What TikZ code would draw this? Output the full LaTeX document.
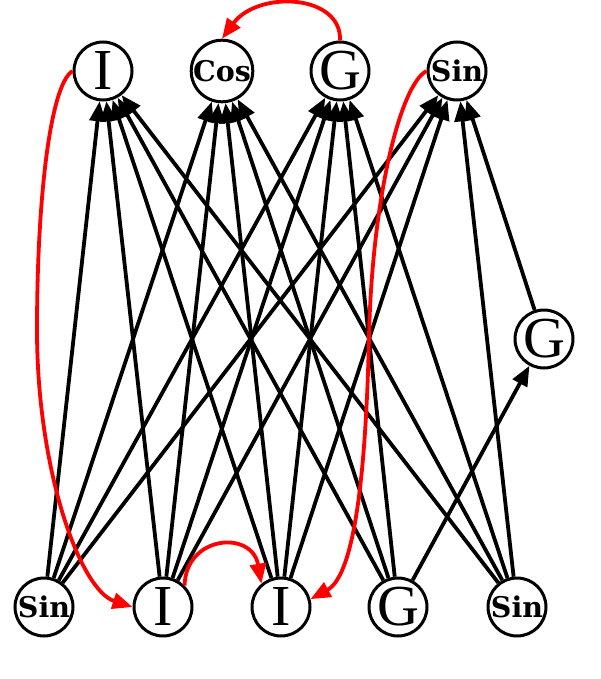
\documentclass[tikz,border=0pt]{standalone}
\usepackage{fontspec}
\newfontfamily\bigf{Liberation Serif}
\newfontfamily\smallf{DejaVu Serif}
\usetikzlibrary{arrows.meta}
\begin{document}
\begin{tikzpicture}[x=1pt,y=-1pt,
  nd/.style={circle,draw,line width=3pt,minimum size=58pt,inner sep=0pt},
  big/.style={nd,font=\bigf\fontsize{58}{58}\selectfont},
  small/.style={nd,font=\smallf\bfseries\fontsize{28.5}{28.5}\selectfont},
  e/.style={line width=3.8pt,-{Triangle[length=20pt,width=16pt]}},
  r/.style={e,red}]
\useasboundingbox (0,0) rectangle (601,679);
% top row
\node[big]   (tI) at (103,71) {I};
\node[small] (tC) at (222,71) {Cos};
\node[big]   (tG) at (340,71) {G};
\node[small] (tS) at (457,71) {Sin};
% right
\node[big]   (rG) at (544,339) {G};
% bottom row
\node[small] (bS1) at (44,607) {Sin};
\node[big]   (bI1) at (163,607) {I};
\node[big]   (bI2) at (281,607) {I};
\node[big]   (bG)  at (398,607) {G};
\node[small] (bS2) at (517,607) {Sin};
% black edges
\foreach \s in {bS1,bI1,bI2,bS2}{
  \foreach \t in {tI,tC,tG,tS}{
    \draw[e] (\s) -- (\t);
  }
}
\foreach \t in {tI,tC,tG,rG}{
  \draw[e] (bG) -- (\t);
}
\draw[e] (rG) -- (tS);
% red edges
\draw[r] (tG.north) .. controls (342,-6) and (258,-10) .. (tC.north);
\draw[r] (bI1.45) .. controls (186,535) and (252,530) .. (bI2.130);
\draw[r] (tI.180) .. controls (50,85) and (37,200) .. (37,330)
         .. controls (37,470) and (80,590) .. (bI1.180);
\draw[r] (tS.180) .. controls (400,85) and (372,200) .. (369,337)
         .. controls (366,470) and (355,575) .. (bI2.15);
\end{tikzpicture}
\end{document}
